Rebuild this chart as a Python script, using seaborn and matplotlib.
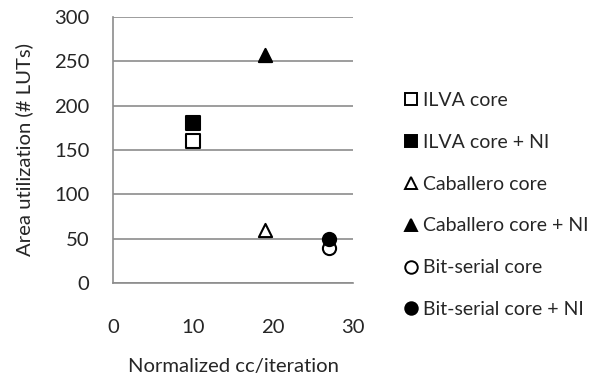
import matplotlib
matplotlib.use("Agg")
import matplotlib.pyplot as plt
import seaborn as sns
import pandas as pd
from matplotlib.lines import Line2D

# Data
series = ["ILVA core", "ILVA core + NI", "Caballero core", "Caballero core + NI",
          "Bit-serial core", "Bit-serial core + NI"]
cc_per_iter = [10, 10, 19, 19, 27, 27]
area_luts = [160, 180, 60, 257, 40, 50]
x_ticks = [0, 10, 20, 30]
y_ticks = [0, 50, 100, 150, 200, 250, 300]

markers = ["s", "s", "^", "^", "o", "o"]
faces = ["white", "black", "white", "black", "white", "black"]

df = pd.DataFrame({"series": series, "cc": cc_per_iter, "luts": area_luts})

sns.set_style("white")
plt.rcParams["font.family"] = ["Lato", "DejaVu Sans"]
FS = 14.6
LFS = 14

fig = plt.figure(figsize=(5.97, 3.83), dpi=100)
ax = fig.add_axes([113 / 597, 1 - 283 / 383, (353 - 113) / 597, (283 - 17) / 383])

for name, m, fc in zip(series, markers, faces):
    sub = df[df["series"] == name]
    sns.scatterplot(data=sub, x="cc", y="luts", ax=ax, marker=m, s=90,
                    color=fc, edgecolor="black", linewidth=1.5, zorder=3,
                    legend=False)

grid_c = "#8c8c8c"
ax.set_xlim(0, 30)
ax.set_ylim(0, 300)
ax.set_xticks(x_ticks)
ax.set_yticks(y_ticks)
ax.yaxis.grid(True, color=grid_c, linewidth=1.2)
ax.set_axisbelow(True)
for side in ["top", "right"]:
    ax.spines[side].set_visible(False)
for side in ["left", "bottom"]:
    ax.spines[side].set_color(grid_c)
    ax.spines[side].set_linewidth(1.2)
ax.tick_params(axis="x", direction="out", length=5, width=1.2, color=grid_c,
               pad=21, labelsize=FS)
ax.tick_params(axis="y", direction="out", length=6, width=1.2, color=grid_c,
               pad=11, labelsize=FS)
ax.set_xlabel("Normalized cc/iteration", fontsize=FS, labelpad=16)
ax.set_ylabel("Area utilization (# LUTs)", fontsize=FS, labelpad=15)

handles = [Line2D([], [], linestyle="none", marker=m, markersize=9,
                  markerfacecolor=fc, markeredgecolor="black", markeredgewidth=1.4)
           for m, fc in zip(markers, faces)]
fig.legend(handles, series, loc="upper left", bbox_to_anchor=(395 / 597, 1 - 84 / 383),
           frameon=False, fontsize=LFS, handlelength=0.8, handletextpad=0.25,
           labelspacing=1.28, borderaxespad=0)

fig.savefig("out.png", dpi=100)
